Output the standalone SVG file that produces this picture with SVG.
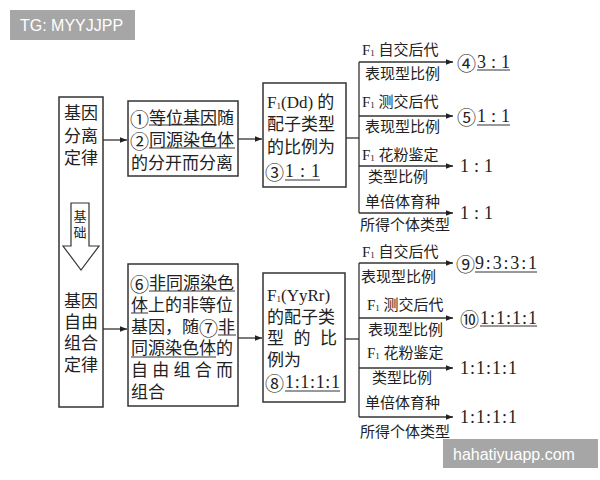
<svg xmlns="http://www.w3.org/2000/svg" width="600" height="480" viewBox="0 0 600 480">
<defs>
<marker id="ah" viewBox="0 0 10 10" refX="10" refY="5" markerWidth="7" markerHeight="7" markerUnits="userSpaceOnUse" orient="auto">
<path d="M0,1 L10,5 L0,9 Z" fill="#222"/>
</marker>
</defs>
<style>
text{font-family:"Liberation Serif","Noto Sans CJK SC",serif;fill:#222;dominant-baseline:central}
.b{font-size:17px}
.l{font-size:15px}
.r{font-size:18px}
.s{font-size:9px}
.cj{font-family:"Noto Sans CJK SC",sans-serif;font-size:19px}
.box{fill:#fff;stroke:#333;stroke-width:1.5}
.c{fill:none;stroke:#333;stroke-width:1.3}
.u{stroke:#333;stroke-width:1}
.wm{fill:#a6a6a6}
.wt{font-family:"Liberation Sans",Arial,sans-serif;font-size:16px;fill:#fff}
</style>
<rect width="600" height="480" fill="#fff"/>

<g id="left">
<rect class="box" x="59" y="97" width="44" height="310"/>
<text class="b" x="81" y="113" text-anchor="middle">基因</text>
<text class="b" x="81" y="136" text-anchor="middle">分离</text>
<text class="b" x="81" y="158" text-anchor="middle">定律</text>
<polygon points="71,203 89,203 89,246 99,246 81,270 63,246 71,246" fill="#fff" stroke="#333" stroke-width="1.2"/>
<text x="80" y="216" text-anchor="middle" style="font-size:13px">基</text>
<text x="80" y="232" text-anchor="middle" style="font-size:13px">础</text>
<text class="b" x="81" y="301" text-anchor="middle">基因</text>
<text class="b" x="81" y="322" text-anchor="middle">自由</text>
<text class="b" x="81" y="343" text-anchor="middle">组合</text>
<text class="b" x="81" y="365" text-anchor="middle">定律</text>
</g>

<g id="box1">
<rect class="box" x="128" y="101" width="110" height="75"/>
<text class="b" x="130" y="118"><tspan class="cj">①</tspan>等位基因随</text>
<text class="b" x="130" y="140"><tspan class="cj">②</tspan>同源染色体</text>
<text class="b" x="131" y="163">的分开而分离</text>
<line class="u" x1="149" y1="125" x2="217" y2="125"/>
<line class="u" x1="149" y1="148" x2="235" y2="148"/>
</g>

<g id="box2">
<rect class="box" x="128" y="264" width="110" height="142"/>
<text class="b" x="130" y="283"><tspan class="cj">⑥</tspan>非同源染色</text>
<text class="b" x="131" y="305">体上的非等位</text>
<text class="b" x="131" y="327">基因，随<tspan class="cj">⑦</tspan>非</text>
<text class="b" x="131" y="348">同源染色体的</text>
<text class="b" x="131" y="370" textLength="102" lengthAdjust="spacing">自由组合而</text>
<text class="b" x="131" y="392">组合</text>
<line class="u" x1="149" y1="291" x2="235" y2="291"/>
<line class="u" x1="131" y1="313" x2="148" y2="313"/>
<line class="u" x1="218" y1="335" x2="236" y2="335"/>
<line class="u" x1="131" y1="357" x2="216" y2="357"/>
</g>

<g id="f1a">
<rect class="box" x="263" y="83" width="83" height="104"/>
<text class="b" x="267" y="102">F<tspan class="s" dy="4">1</tspan><tspan dy="-4">(Dd) 的</tspan></text>
<text class="b" x="267" y="124">配子类型</text>
<text class="b" x="267" y="147">的比例为</text>
<text class="cj" x="265" y="171">③</text>
<text class="r" x="285" y="171" textLength="35" lengthAdjust="spacing">1 : 1</text>
<line class="u" x1="285" y1="180" x2="320" y2="180"/>
</g>

<g id="f1b">
<rect class="box" x="263" y="273" width="82" height="129"/>
<text class="b" x="267" y="295">F<tspan class="s" dy="4">1</tspan><tspan dy="-4">(YyRr)</tspan></text>
<text class="b" x="267" y="317">的配子类</text>
<text class="b" x="267" y="338" textLength="70" lengthAdjust="spacing">型的比</text>
<text class="b" x="267" y="360">例为</text>
<text class="cj" x="265" y="382">⑧</text>
<text class="r" x="285" y="382" textLength="55" lengthAdjust="spacing">1:1:1:1</text>
<line class="u" x1="285" y1="391" x2="340" y2="391"/>
</g>

<g id="connectors">
<line class="c" x1="103" y1="140" x2="127" y2="140" marker-end="url(#ah)"/>
<line class="c" x1="238" y1="139" x2="262" y2="139" marker-end="url(#ah)"/>
<line class="c" x1="103" y1="329" x2="127" y2="329" marker-end="url(#ah)"/>
<line class="c" x1="238" y1="338" x2="262" y2="338" marker-end="url(#ah)"/>
<line class="c" x1="346" y1="138" x2="359" y2="138"/>
<line class="c" x1="359" y1="62" x2="359" y2="213"/>
<line class="c" x1="359" y1="62" x2="453" y2="62" marker-end="url(#ah)"/>
<line class="c" x1="359" y1="116" x2="453" y2="116" marker-end="url(#ah)"/>
<line class="c" x1="359" y1="166" x2="453" y2="166" marker-end="url(#ah)"/>
<line class="c" x1="359" y1="213" x2="453" y2="213" marker-end="url(#ah)"/>
<line class="c" x1="345" y1="339" x2="359" y2="339"/>
<line class="c" x1="359" y1="263" x2="359" y2="417"/>
<line class="c" x1="359" y1="263" x2="453" y2="263" marker-end="url(#ah)"/>
<line class="c" x1="359" y1="318" x2="453" y2="318" marker-end="url(#ah)"/>
<line class="c" x1="359" y1="368" x2="453" y2="368" marker-end="url(#ah)"/>
<line class="c" x1="359" y1="417" x2="453" y2="417" marker-end="url(#ah)"/>
</g>

<g id="labels-top">
<text class="l" x="362" y="50">F<tspan class="s" dy="3">1</tspan><tspan dy="-3"> 自交后代</tspan></text>
<text class="l" x="365" y="74">表现型比例</text>
<text class="l" x="362" y="102">F<tspan class="s" dy="3">1</tspan><tspan dy="-3"> 测交后代</tspan></text>
<text class="l" x="365" y="127">表现型比例</text>
<text class="l" x="362" y="155">F<tspan class="s" dy="3">1</tspan><tspan dy="-3"> 花粉鉴定</tspan></text>
<text class="l" x="368" y="177">类型比例</text>
<text class="l" x="365" y="202">单倍体育种</text>
<text class="l" x="360" y="225">所得个体类型</text>
</g>

<g id="results-top">
<text class="cj" x="457" y="62">④</text>
<text class="r" x="477" y="62" textLength="33" lengthAdjust="spacing">3 : 1</text>
<line class="u" x1="477" y1="70" x2="510" y2="70"/>
<text class="cj" x="457" y="116">⑤</text>
<text class="r" x="477" y="116" textLength="33" lengthAdjust="spacing">1 : 1</text>
<line class="u" x1="477" y1="125" x2="510" y2="125"/>
<text class="r" x="460" y="166" textLength="33" lengthAdjust="spacing">1 : 1</text>
<text class="r" x="460" y="213" textLength="33" lengthAdjust="spacing">1 : 1</text>
</g>

<g id="labels-bottom">
<text class="l" x="362" y="252">F<tspan class="s" dy="3">1</tspan><tspan dy="-3"> 自交后代</tspan></text>
<text class="l" x="361" y="277">表现型比例</text>
<text class="l" x="367" y="305">F<tspan class="s" dy="3">1</tspan><tspan dy="-3"> 测交后代</tspan></text>
<text class="l" x="368" y="330">表现型比例</text>
<text class="l" x="367" y="353">F<tspan class="s" dy="3">1</tspan><tspan dy="-3"> 花粉鉴定</tspan></text>
<text class="l" x="372" y="378">类型比例</text>
<text class="l" x="365" y="403">单倍体育种</text>
<text class="l" x="360" y="432">所得个体类型</text>
</g>

<g id="results-bottom">
<text class="cj" x="456" y="263">⑨</text>
<text class="r" x="475" y="263" textLength="62" lengthAdjust="spacing">9:3:3:1</text>
<line class="u" x1="475" y1="272" x2="537" y2="272"/>
<text class="cj" x="460" y="318">⑩</text>
<text class="r" x="480" y="318" textLength="57" lengthAdjust="spacing">1:1:1:1</text>
<line class="u" x1="480" y1="326" x2="537" y2="326"/>
<text class="r" x="460" y="368" textLength="57" lengthAdjust="spacing">1:1:1:1</text>
<text class="r" x="460" y="417" textLength="57" lengthAdjust="spacing">1:1:1:1</text>
</g>

<g id="watermarks">
<rect class="wm" x="10" y="10" width="125" height="30"/>
<text class="wt" x="20" y="25">TG: MYYJJPP</text>
<rect class="wm" x="443" y="439" width="155" height="29"/>
<text class="wt" x="453" y="454">hahatiyuapp.com</text>
</g>
</svg>
